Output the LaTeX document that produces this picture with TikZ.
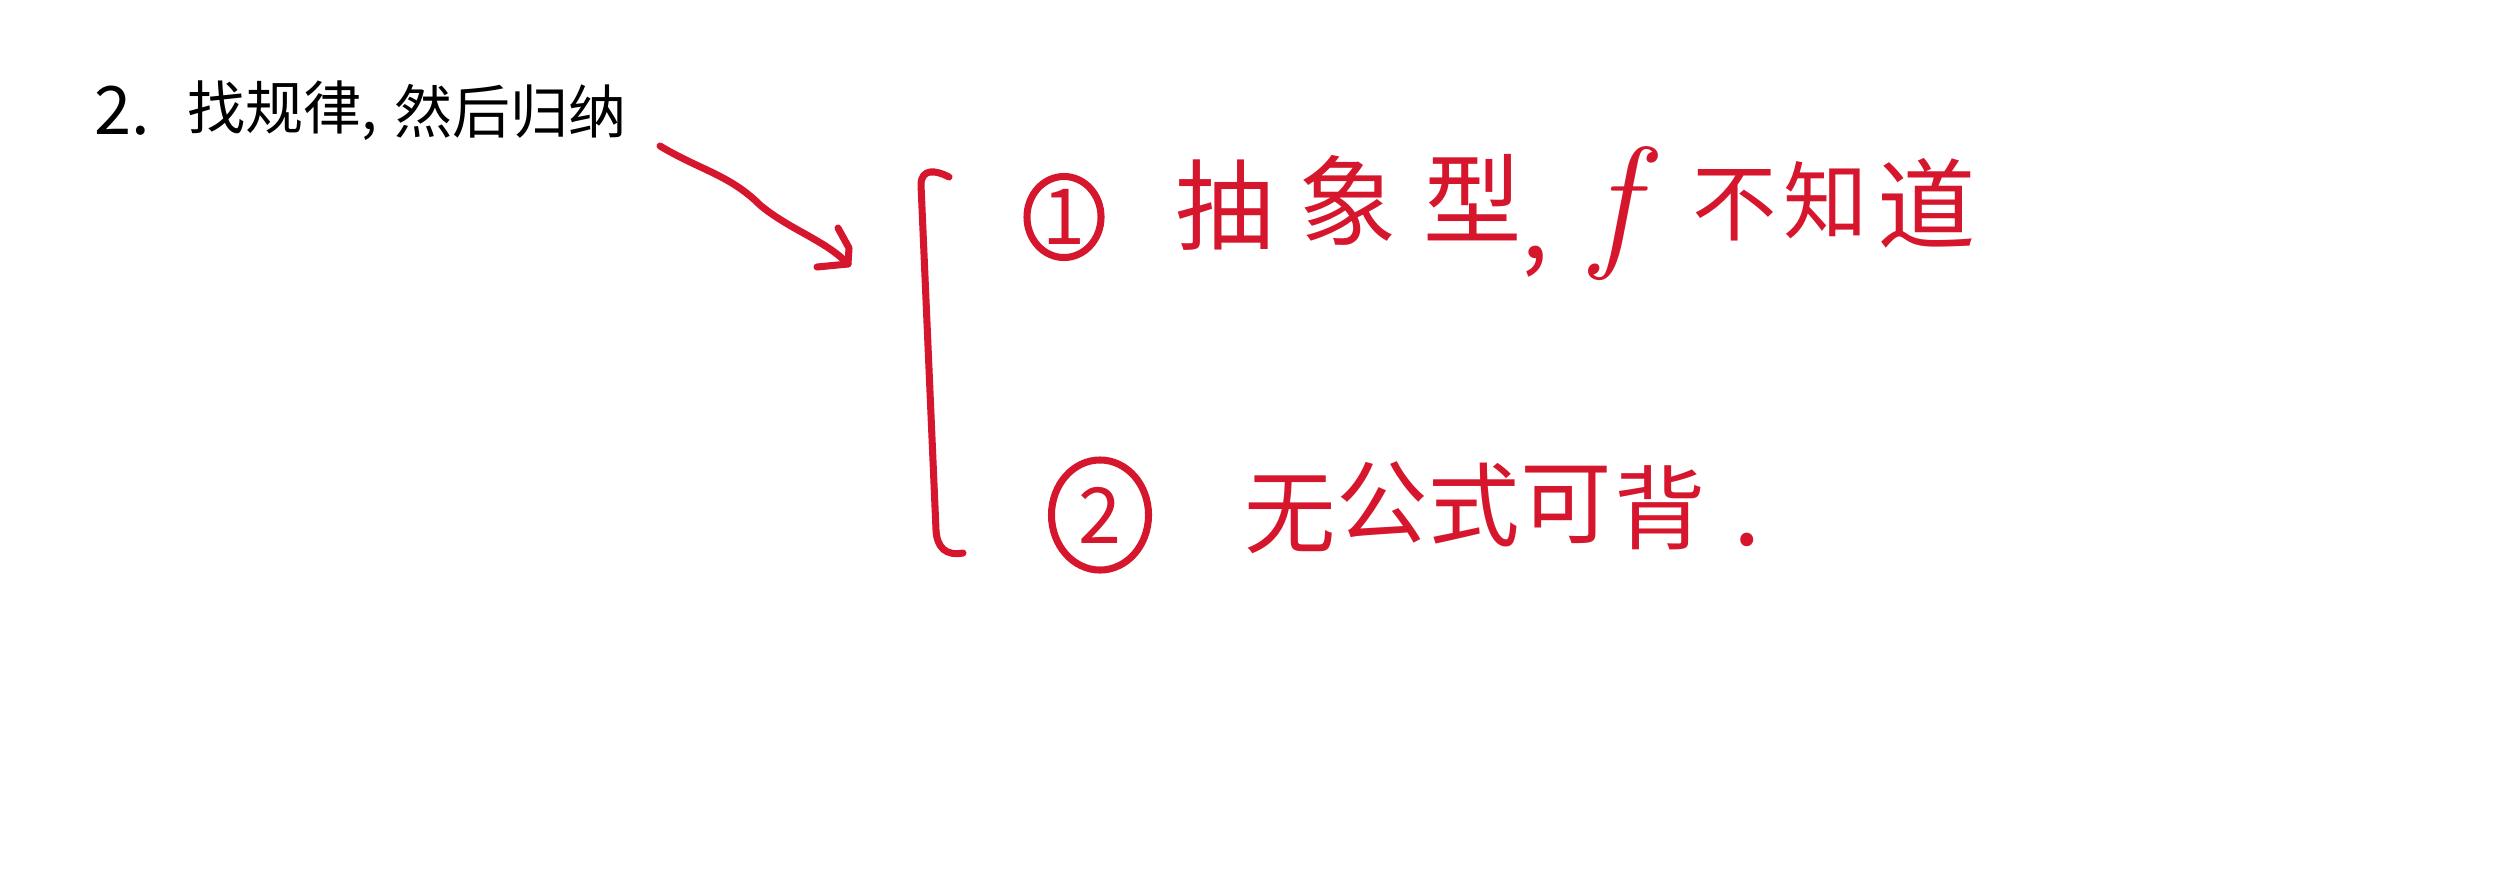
\documentclass[tikz,border=0pt]{standalone}
\usepackage{fontspec}
\newfontfamily\cjk{Noto Sans CJK SC}
\usetikzlibrary{shapes.geometric}
\definecolor{pen}{RGB}{214,22,44}
\begin{document}
\begin{tikzpicture}[x=0.01cm,y=-0.01cm,
  title/.style={font=\cjk\fontsize{16.5}{20}\selectfont, inner sep=0, anchor=west, text=black},
  hand/.style={font=\cjk\fontsize{28}{32}\selectfont, inner sep=0, text=pen},
  small/.style={font=\cjk\fontsize{24}{28}\selectfont},
  mid/.style={font=\cjk\fontsize{26}{30}\selectfont},
  ring/.style={draw=pen, line width=2pt, ellipse, inner sep=0, text=pen, font=\cjk\fontsize{22}{26}\selectfont},
  stroke/.style={draw=pen, line width=2pt, line cap=round, line join=round}]
\fill[white] (0,0) rectangle (2519,878);
\useasboundingbox (0,0) rectangle (2519,878);
% title
\node[title, font=\cjk\fontsize{19}{22}\selectfont] (num) at (94,111) {2.};
\node[title] (t1) at (187,111) {找规律,};
\node[title] (t2) at (394,111) {然后归纳};
% arrow
\coordinate (as) at (660,146);
\coordinate (at) at (848,264);
\draw[stroke] (as) .. controls (700,170) and (730,175) .. (760,205) .. controls (790,230) and (825,240) .. (at);
\draw[stroke] (838,228) -- (849,248) -- (at) -- (817,267);
% bracket
\coordinate (bt) at (949,177);
\coordinate (bb) at (963,553);
\draw[stroke] (bt) .. controls (936,170) and (921,168) .. (921,185) -- (936,530) .. controls (937,548) and (946,556) .. (bb);
% line 1
\node[ring, minimum width=0.74cm, minimum height=0.81cm] (r1) at (1064,217) {1};
\node[hand] (c11) at (1225,205) {抽};
\node[hand] (c12) at (1348,200) {象};
\node[hand] (c13) at (1473,198) {型};
\node[hand] (c14) at (1535,262) {,};
\node[hand, font=\rmfamily\itshape\fontsize{42}{48}\selectfont] (c15) at (1615,214) {f};
\node[hand, small] (c16) at (1735,205) {不};
\node[hand, small] (c17) at (1826,200) {知};
\node[hand] (c18) at (1927,203) {道};
% line 2
\node[ring, minimum width=0.97cm, minimum height=1.10cm] (r2) at (1100,515) {2};
\node[hand, mid] (c21) at (1290,515) {无};
\node[hand, mid] (c22) at (1382,502) {公};
\node[hand, mid] (c23) at (1474,505) {式};
\node[hand, mid] (c24) at (1566,505) {可};
\node[hand, mid] (c25) at (1660,508) {背};
\node[hand] (c26) at (1747,540) {.};
\end{tikzpicture}
\end{document}
